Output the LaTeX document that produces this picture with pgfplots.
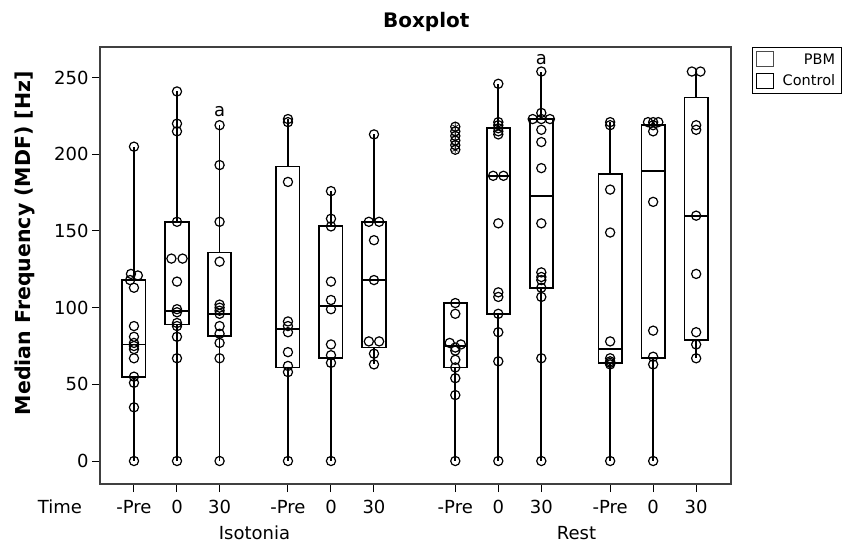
\documentclass[border=0pt]{standalone}
\usepackage{pgfplots}
\pgfplotsset{compat=1.18}
\usepackage{pgfplotstable}
\usepgfplotslibrary{statistics}
\usepackage{fontspec}
\setmainfont{DejaVu Sans}

% points of each box: x (position with small jitter), y
\pgfplotstableread{
x y
0.79 205
0.72 122
0.88 121
0.70 118
0.79 113
0.79 88
0.79 81
0.79 77
0.79 75
0.79 73
0.79 67
0.79 55
0.79 51
0.79 35
0.79 0
}\isoPbmPre
\pgfplotstableread{
x y
1.79 241
1.79 220
1.79 215
1.79 156
1.66 132
1.92 132
1.79 117
1.79 99
1.79 97
1.79 90
1.79 88
1.79 81
1.79 67
1.79 0
}\isoPbmZero
\pgfplotstableread{
x y
2.78 219
2.78 193
2.78 156
2.78 130
2.78 102
2.78 100
2.78 98
2.78 96
2.78 88
2.78 83
2.78 77
2.78 67
2.78 0
}\isoPbmThirty
\pgfplotstableread{
x y
4.37 223
4.37 221
4.37 182
4.37 91
4.37 88
4.37 84
4.37 71
4.37 62
4.37 58
4.37 0
}\isoConPre
\pgfplotstableread{
x y
5.37 176
5.37 158
5.37 153
5.37 117
5.37 105
5.37 99
5.37 76
5.37 69
5.37 64
5.37 0
}\isoConZero
\pgfplotstableread{
x y
6.37 213
6.25 156
6.49 156
6.37 144
6.37 118
6.25 78
6.49 78
6.37 70
6.37 63
}\isoConThirty
\pgfplotstableread{
x y
8.26 218
8.26 215
8.26 212
8.26 209
8.26 206
8.26 203
}\restPbmPreOut
\pgfplotstableread{
x y
8.26 103
8.26 96
8.13 77
8.39 76
8.26 74
8.26 72
8.26 66
8.26 61
8.26 54
8.26 43
8.26 0
}\restPbmPre
\pgfplotstableread{
x y
9.26 246
9.26 221
9.26 219
9.26 217
9.26 215
9.26 213
9.14 186
9.38 186
9.26 155
9.26 110
9.26 107
9.26 96
9.26 84
9.26 65
9.26 0
}\restPbmZero
\pgfplotstableread{
x y
10.26 254
10.26 227
10.06 223
10.26 223
10.46 223
10.26 216
10.26 208
10.26 191
10.26 155
10.26 123
10.26 120
10.26 118
10.26 113
10.26 107
10.26 67
10.26 0
}\restPbmThirty
\pgfplotstableread{
x y
11.86 221
11.86 219
11.86 177
11.86 149
11.86 78
11.86 67
11.86 65
11.86 64
11.86 63
11.86 0
}\restConPre
\pgfplotstableread{
x y
12.74 221
12.98 221
12.86 221
12.86 219
12.86 215
12.86 169
12.86 85
12.86 68
12.86 63
12.86 0
}\restConZero
\pgfplotstableread{
x y
13.76 254
13.96 254
13.86 219
13.86 216
13.86 160
13.86 122
13.86 84
13.86 76
13.86 67
}\restConThirty

\newcommand{\bx}[6]{\addplot[black, line width=1.8pt, forget plot,
  boxplot/draw direction=y,
  boxplot prepared={draw position=#1, lower whisker=#2, lower quartile=#3,
  median=#4, upper quartile=#5, upper whisker=#6, box extend=0.54, whisker extend=0}]
  coordinates {};}
\newcommand{\pts}[1]{\addplot[only marks, black, forget plot, mark=o, mark size=4.6pt,
  mark options={line width=1.2pt}] table[x=x,y=y] {#1};}

\begin{document}
\begin{tikzpicture}
\path[use as bounding box] (-100pt,-59pt) rectangle (750pt,484pt);
\begin{axis}[
  at={(0pt,0pt)}, anchor=south west,
  scale only axis, width=631pt, height=437pt,
  boxplot/draw direction=y,
  xmin=0, xmax=14.67, ymin=-15, ymax=270,
  axis line style={line width=1.5pt, draw=black!75},
  xtick={0.79,1.79,2.78,4.37,5.37,6.37,8.26,9.26,10.26,11.86,12.86,13.86},
  xticklabels={-Pre,0,30,-Pre,0,30,-Pre,0,30,-Pre,0,30},
  ytick={0,50,100,150,200,250},
  tick align=outside, xtick pos=bottom, ytick pos=left,
  major tick length=8pt,
  tick style={line width=1pt, black},
  tick label style={font=\fontsize{18}{20}\selectfont},
  xticklabel style={yshift=-5pt},
  /pgf/number format/assume math mode=true,
  ylabel={Median Frequency (MDF) [Hz]},
  ylabel style={font=\bfseries\fontsize{20.5}{22}\selectfont, at={(axis description cs:-0.119,0.551)}, anchor=center},
  title={Boxplot},
  title style={font=\bfseries\fontsize{20}{22}\selectfont, at={(axis description cs:0.517,1)}, anchor=south, yshift=6pt},
  clip=false,
  legend style={at={(axis description cs:1.033,1)}, anchor=north west, draw=black, line width=0.8pt,
    font=\fontsize{14.5}{17}\selectfont, inner sep=4pt, row sep=5pt},
  legend cell align=right,
]
\bx{0.79}{0}{55}{76}{118}{205}
\bx{1.79}{0}{89}{98}{156}{241}
\bx{2.78}{0}{81.5}{96}{136}{219}
\bx{4.37}{0}{61}{86}{192}{223}
\bx{5.37}{0}{67}{101}{153}{176}
\bx{6.37}{63}{74}{118}{156}{213}
\bx{8.26}{0}{61}{75}{103}{103}
\bx{9.26}{0}{96}{186}{217}{246}
\bx{10.26}{0}{113}{173}{223}{254}
\bx{11.86}{0}{64}{73}{187}{221}
\bx{12.86}{0}{67}{189}{219}{221}
\bx{13.86}{67}{79}{160}{237}{254}
\pts{\isoPbmPre}
\pts{\isoPbmZero}
\pts{\isoPbmThirty}
\pts{\isoConPre}
\pts{\isoConZero}
\pts{\isoConThirty}
\pts{\restPbmPre}
\pts{\restPbmZero}
\pts{\restPbmThirty}
\pts{\restConPre}
\pts{\restConZero}
\pts{\restConThirty}
\addplot[only marks, black, forget plot, mark=o, mark size=4.6pt, mark options={line width=1.2pt}] table[x=x,y=y] {\restPbmPreOut};
\addplot[only marks, black, forget plot, mark=asterisk, mark size=3.5pt, mark options={line width=0.6pt}] table[x=x,y=y] {\restPbmPreOut};
\addlegendimage{legend image code/.code={\path[draw=none] (0pt,0pt) -- (24pt,0pt); \draw[black!70, line width=0.6pt] (0pt,-7pt) rectangle (17pt,8pt);}}
\addlegendentry{PBM}
\addlegendimage{legend image code/.code={\path[draw=none] (0pt,0pt) -- (24pt,0pt); \draw[black, line width=1pt] (0pt,-7pt) rectangle (17pt,8pt);}}
\addlegendentry{Control}
\node[font=\fontsize{18}{20}\selectfont] at (axis cs:2.78,228) {a};
\node[font=\fontsize{18}{20}\selectfont] at (axis cs:10.26,262) {a};
\node[font=\fontsize{18}{20}\selectfont, anchor=base] at (rel axis cs:-0.0634,0) [yshift=-29pt] {Time};
\node[font=\fontsize{18}{20}\selectfont, anchor=base] at (rel axis cs:0.2449,0) [yshift=-55pt] {Isotonia};
\node[font=\fontsize{18}{20}\selectfont, anchor=base] at (rel axis cs:0.7551,0) [yshift=-55pt] {Rest};
\end{axis}
\end{tikzpicture}
\end{document}
